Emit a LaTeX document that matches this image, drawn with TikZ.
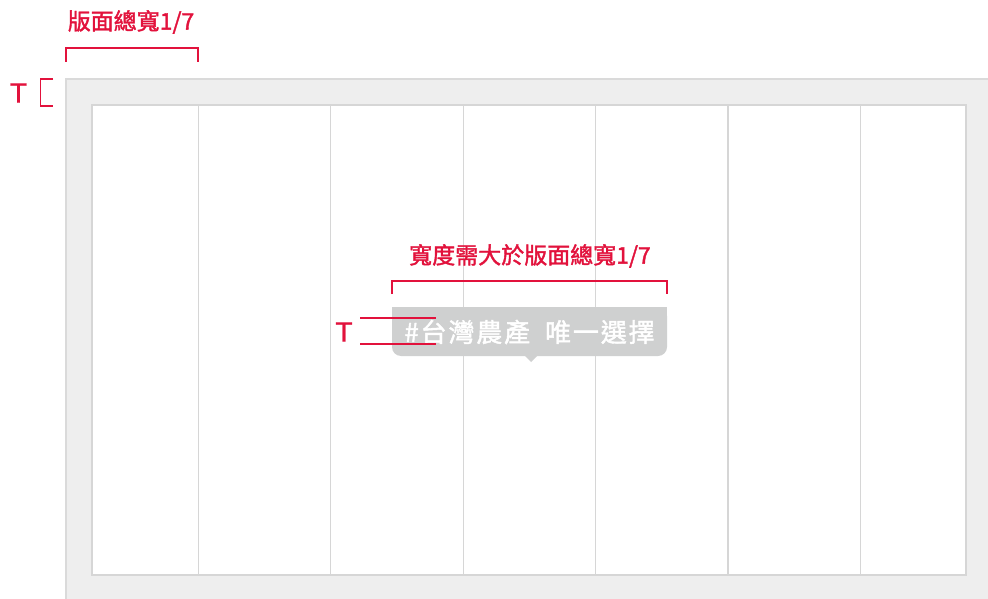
\documentclass[tikz,border=0pt]{standalone}
\usepackage{fontspec}
\newfontfamily\cjk{Noto Sans CJK TC}
\newfontfamily\cjkm{Noto Sans CJK TC}[FakeBold=1.6]
\newfontfamily\tfont{Liberation Sans}[FakeBold=0.8]
\usepackage{tikz}
\definecolor{markred}{RGB}{226,18,60}
\definecolor{panelgray}{RGB}{238,238,238}
\definecolor{panelline}{RGB}{218,218,218}
\definecolor{colline}{RGB}{214,214,214}
\definecolor{taggray}{RGB}{207,208,208}
\tikzset{
	redlabel/.style = {inner sep=0pt, text=markred, font=\cjkm\fontsize{23}{26}\selectfont},
	tmark/.style = {inner sep=0pt, text=markred, font=\tfont\fontsize{28}{30}\selectfont},
	redline/.style = {draw=markred, line width=1.8pt},
	taglabel/.style = {inner sep=0pt, text=white, font=\cjkm\addfontfeature{LetterSpace=7}\fontsize{26}{30}\selectfont},
	gridline/.style = {draw=colline, line width=1.2pt}
}
\begin{document}
\begin{tikzpicture}[x=1pt, y=-1pt]
		\useasboundingbox (0,0) rectangle (988,599);
		% panel
		\fill[panelgray] (66,79) rectangle (1000,610);
		\draw[panelline, line width=2pt] (66,610) -- (66,79) -- (1000,79);
		\fill[white] (92,105) rectangle (966,575);
		\foreach \k in {1,...,6}
			\draw[gridline] (66+132.4*\k,105) -- (66+132.4*\k,575);
		\draw[gridline] (92,105) rectangle (966,575);
		% tag
		\coordinate (tagnw) at (392,307);
		\coordinate (tagse) at (667,356);
		\fill[taggray, rounded corners=9pt] (tagnw) rectangle (tagse);
		\fill[taggray] (tagnw) rectangle +(10,10);
		\fill[taggray] (tagse |- tagnw) rectangle +(-10,10);
		\fill[taggray] (524,355) -- (531,362) -- (538,355) -- cycle;
		\node[taglabel] (tag) at (529.5,332) {\#台灣農產\hspace{15pt}唯一選擇};
		% top width mark
		\node[redlabel] (pagewidth) at (131,22) {版面總寬1/7};
		\coordinate (pw-a) at (66,62);
		\coordinate (pw-b) at (198,62);
		\draw[redline] (pw-a) -- ++(0,-14) -| (pw-b);
		% margin mark
		\node[tmark] (marginT) at (18.5,93) {T};
		\coordinate (mt-a) at (53,79);
		\coordinate (mt-b) at (53,106);
		\draw[redline] (mt-a) -| (40.5,92.5) |- (mt-b);
		% tag width mark
		\node[redlabel] (tagwidth) at (530,256) {寬度需大於版面總寬1/7};
		\coordinate (tw-a) at (392,294);
		\coordinate (tw-b) at (667,294);
		\draw[redline] (tw-a) -- ++(0,-13) -| (tw-b);
		% tag padding mark
		\node[tmark] (padT) at (344,332) {T};
		\coordinate (pt-a) at (360,318);
		\coordinate (pt-b) at (360,344);
		\draw[redline] (pt-a) -- ++(76,0);
		\draw[redline] (pt-b) -- ++(76,0);
\end{tikzpicture}
\end{document}
